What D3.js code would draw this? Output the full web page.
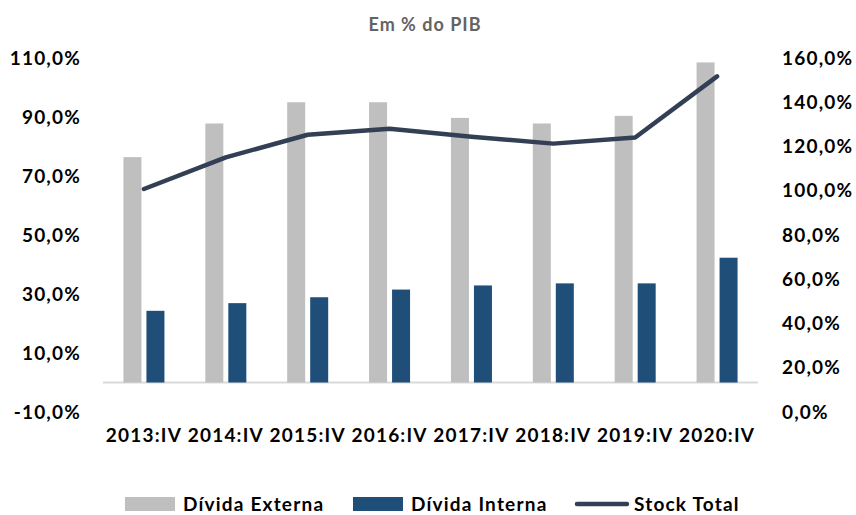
<!DOCTYPE html>
<html>
<head>
<meta charset="utf-8">
<script src="https://cdn.jsdelivr.net/npm/d3@7"></script>
<style>
  body { margin: 0; background: #fff; }
  text { font-family: Lato, "Liberation Sans", sans-serif; font-weight: bold; }
</style>
</head>
<body>
<svg id="chart" width="856" height="515"></svg>
<script>
// data
var categories = ["2013:IV", "2014:IV", "2015:IV", "2016:IV", "2017:IV", "2018:IV", "2019:IV", "2020:IV"];
var dividaExterna = [76.4, 87.8, 95.0, 95.0, 89.7, 87.8, 90.4, 108.5];
var dividaInterna = [24.3, 26.9, 28.9, 31.5, 32.9, 33.6, 33.6, 42.3];
var stockTotal = [100.8, 115.1, 125.3, 128.0, 124.4, 121.3, 124.1, 151.7];
var leftTicks = [-10, 10, 30, 50, 70, 90, 110];
var rightTicks = [0, 20, 40, 60, 80, 100, 120, 140, 160];

var svg = d3.select("#chart"),
    margin = {top: 58, bottom: 412, left: 103, right: 758};

var fmt = function(d) { return d.toFixed(1).replace(".", ",") + "%"; };

// scales
var x = d3.scaleBand()
    .domain(categories)
    .range([margin.left, margin.right]);

var yLeft = d3.scaleLinear()
    .domain([-10, 110])
    .range([margin.bottom, margin.top]);

var yRight = d3.scaleLinear()
    .domain([0, 160])
    .range([margin.bottom, margin.top]);

var barW = 18, gap = 5;

// title
svg.append("text")
   .attr("x", 425)
   .attr("y", 31)
   .attr("text-anchor", "middle")
   .attr("fill", "#636363")
   .style("font-size", "18px")
   .style("letter-spacing", "1px")
   .text("Em % do PIB");

// zero line
svg.append("line")
   .attr("x1", margin.left)
   .attr("x2", margin.right)
   .attr("y1", yLeft(0))
   .attr("y2", yLeft(0))
   .attr("stroke", "#d9d9d9")
   .attr("stroke-width", 2);

// bars
var mid = function(i) { return x(categories[i]) + x.bandwidth() / 2; };

svg.selectAll(".ext")
   .data(dividaExterna)
   .enter()
   .append("rect")
   .attr("class", "ext")
   .attr("x", function(d, i) { return mid(i) - gap / 2 - barW; })
   .attr("y", function(d) { return yLeft(d); })
   .attr("width", barW)
   .attr("height", function(d) { return yLeft(0) - yLeft(d); })
   .attr("fill", "#bfbfbf");

svg.selectAll(".int")
   .data(dividaInterna)
   .enter()
   .append("rect")
   .attr("class", "int")
   .attr("x", function(d, i) { return mid(i) + gap / 2; })
   .attr("y", function(d) { return yLeft(d); })
   .attr("width", barW)
   .attr("height", function(d) { return yLeft(0) - yLeft(d); })
   .attr("fill", "#1f4e79");

// stock total line on right axis
var line = d3.line()
    .x(function(d, i) { return mid(i); })
    .y(function(d) { return yRight(d); });

svg.append("path")
   .datum(stockTotal)
   .attr("d", line)
   .attr("fill", "none")
   .attr("stroke", "#323f54")
   .attr("stroke-width", 4.5)
   .attr("stroke-linecap", "round")
   .attr("stroke-linejoin", "round");

// axes
var styleText = function(sel) {
  sel.attr("fill", "#000")
     .style("font-size", "19px")
     .style("letter-spacing", "1.2px");
};

var leftAxis = d3.axisLeft(yLeft).tickValues(leftTicks).tickFormat(fmt).tickSize(0).tickPadding(0);
svg.append("g")
   .attr("transform", "translate(81,0)")
   .call(leftAxis)
   .call(function(g) { g.select(".domain").remove(); })
   .selectAll("text")
   .call(styleText);

var rightAxis = d3.axisRight(yRight).tickValues(rightTicks).tickFormat(fmt).tickSize(0).tickPadding(0);
svg.append("g")
   .attr("transform", "translate(782,0)")
   .call(rightAxis)
   .call(function(g) { g.select(".domain").remove(); })
   .selectAll("text")
   .call(styleText);

var xAxis = d3.axisBottom(x).tickSize(0).tickPadding(0);
svg.append("g")
   .attr("transform", "translate(0,428)")
   .call(xAxis)
   .call(function(g) { g.select(".domain").remove(); })
   .selectAll("text")
   .call(styleText);

// legend
var legend = svg.append("g").attr("transform", "translate(0,504)");
var items = [
  {name: "Dívida Externa", x: 125, type: "rect", color: "#bfbfbf"},
  {name: "Dívida Interna", x: 353, type: "rect", color: "#1f4e79"},
  {name: "Stock Total", x: 577, type: "line", color: "#323f54"}
];
items.forEach(function(it) {
  if (it.type == "rect") {
    legend.append("rect")
       .attr("x", it.x).attr("y", -7)
       .attr("width", 50).attr("height", 14)
       .attr("fill", it.color);
  } else {
    legend.append("line")
       .attr("x1", it.x).attr("x2", it.x + 50)
       .attr("y1", 0).attr("y2", 0)
       .attr("stroke", it.color)
       .attr("stroke-width", 4.5)
       .attr("stroke-linecap", "round");
  }
  legend.append("text")
     .attr("x", it.type == "rect" ? it.x + 58 : it.x + 57)
     .attr("y", 0)
     .attr("dy", "0.35em")
     .call(styleText)
     .text(it.name);
});
</script>
</body>
</html>
